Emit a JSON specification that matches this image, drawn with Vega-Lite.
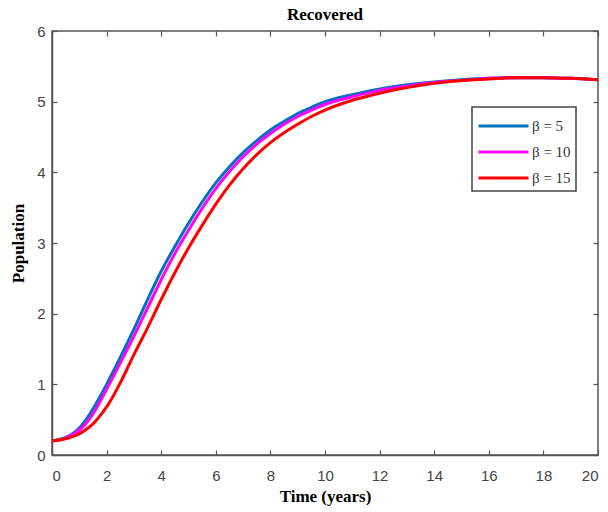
{
  "$schema": "https://vega.github.io/schema/vega-lite/v6.json",
  "width": 546,
  "height": 424,
  "autosize": {"type": "none"},
  "padding": {"left": 52, "top": 31, "right": 10, "bottom": 57},
  "background": "white",
  "title": {"text": "Recovered", "font": "Liberation Serif", "fontSize": 17, "fontWeight": "bold", "color": "#000", "offset": 0},
  "config": {
    "view": {"stroke": "#555", "strokeWidth": 1.5},
    "axis": {"domainColor": "#555", "domainWidth": 1.5, "tickColor": "#555", "tickWidth": 1.2, "tickSize": -5, "grid": false, "labelFont": "Liberation Sans", "labelFontSize": 15, "labelColor": "#444", "titleFont": "Liberation Serif", "titleFontSize": 17, "titleFontWeight": "bold", "titleColor": "#000"},
    "legend": {"orient": "none", "legendX": 420, "legendY": 76, "strokeColor": "#444", "strokeWidth": 1.5, "padding": 5, "fillColor": "white", "symbolType": "M-1,0H3", "symbolSize": 625, "symbolStrokeWidth": 3, "labelOffset": 27, "labelFont": "Liberation Serif", "labelFontSize": 15, "labelColor": "#333", "rowPadding": 4, "title": null}
  },
  "data": {"values": [
    {"t":0,"v":0.2,"s":"β = 5"},{"t":0.5,"v":0.25,"s":"β = 5"},{"t":0.75,"v":0.3,"s":"β = 5"},{"t":1,"v":0.38,"s":"β = 5"},{"t":1.25,"v":0.5,"s":"β = 5"},{"t":1.5,"v":0.65,"s":"β = 5"},{"t":1.75,"v":0.82,"s":"β = 5"},{"t":2,"v":1.0,"s":"β = 5"},{"t":2.5,"v":1.38,"s":"β = 5"},{"t":3,"v":1.78,"s":"β = 5"},{"t":3.5,"v":2.2,"s":"β = 5"},{"t":4,"v":2.6,"s":"β = 5"},{"t":4.5,"v":2.95,"s":"β = 5"},{"t":5,"v":3.28,"s":"β = 5"},{"t":5.5,"v":3.58,"s":"β = 5"},{"t":6,"v":3.85,"s":"β = 5"},{"t":6.5,"v":4.08,"s":"β = 5"},{"t":7,"v":4.28,"s":"β = 5"},{"t":7.5,"v":4.45,"s":"β = 5"},{"t":8,"v":4.6,"s":"β = 5"},{"t":8.5,"v":4.72,"s":"β = 5"},{"t":9,"v":4.83,"s":"β = 5"},{"t":9.5,"v":4.92,"s":"β = 5"},{"t":10,"v":5.0,"s":"β = 5"},{"t":11,"v":5.1,"s":"β = 5"},{"t":12,"v":5.18,"s":"β = 5"},{"t":13,"v":5.24,"s":"β = 5"},{"t":14,"v":5.28,"s":"β = 5"},{"t":15,"v":5.31,"s":"β = 5"},{"t":16,"v":5.33,"s":"β = 5"},{"t":17,"v":5.34,"s":"β = 5"},{"t":18,"v":5.34,"s":"β = 5"},{"t":19,"v":5.33,"s":"β = 5"},{"t":20,"v":5.31,"s":"β = 5"},
    {"t":0,"v":0.2,"s":"β = 10"},{"t":0.5,"v":0.24,"s":"β = 10"},{"t":0.75,"v":0.29,"s":"β = 10"},{"t":1,"v":0.35,"s":"β = 10"},{"t":1.25,"v":0.45,"s":"β = 10"},{"t":1.5,"v":0.58,"s":"β = 10"},{"t":1.75,"v":0.75,"s":"β = 10"},{"t":2,"v":0.93,"s":"β = 10"},{"t":2.5,"v":1.3,"s":"β = 10"},{"t":3,"v":1.68,"s":"β = 10"},{"t":3.5,"v":2.08,"s":"β = 10"},{"t":4,"v":2.48,"s":"β = 10"},{"t":4.5,"v":2.85,"s":"β = 10"},{"t":5,"v":3.18,"s":"β = 10"},{"t":5.5,"v":3.49,"s":"β = 10"},{"t":6,"v":3.77,"s":"β = 10"},{"t":6.5,"v":4.01,"s":"β = 10"},{"t":7,"v":4.22,"s":"β = 10"},{"t":7.5,"v":4.4,"s":"β = 10"},{"t":8,"v":4.55,"s":"β = 10"},{"t":8.5,"v":4.68,"s":"β = 10"},{"t":9,"v":4.79,"s":"β = 10"},{"t":9.5,"v":4.88,"s":"β = 10"},{"t":10,"v":4.96,"s":"β = 10"},{"t":11,"v":5.07,"s":"β = 10"},{"t":12,"v":5.16,"s":"β = 10"},{"t":13,"v":5.22,"s":"β = 10"},{"t":14,"v":5.27,"s":"β = 10"},{"t":15,"v":5.3,"s":"β = 10"},{"t":16,"v":5.33,"s":"β = 10"},{"t":17,"v":5.34,"s":"β = 10"},{"t":18,"v":5.34,"s":"β = 10"},{"t":19,"v":5.33,"s":"β = 10"},{"t":20,"v":5.31,"s":"β = 10"},
    {"t":0,"v":0.2,"s":"β = 15"},{"t":0.5,"v":0.23,"s":"β = 15"},{"t":0.75,"v":0.26,"s":"β = 15"},{"t":1,"v":0.3,"s":"β = 15"},{"t":1.25,"v":0.36,"s":"β = 15"},{"t":1.5,"v":0.44,"s":"β = 15"},{"t":1.75,"v":0.55,"s":"β = 15"},{"t":2,"v":0.68,"s":"β = 15"},{"t":2.25,"v":0.84,"s":"β = 15"},{"t":2.5,"v":1.02,"s":"β = 15"},{"t":3,"v":1.42,"s":"β = 15"},{"t":3.5,"v":1.8,"s":"β = 15"},{"t":4,"v":2.2,"s":"β = 15"},{"t":4.5,"v":2.58,"s":"β = 15"},{"t":5,"v":2.93,"s":"β = 15"},{"t":5.5,"v":3.25,"s":"β = 15"},{"t":6,"v":3.55,"s":"β = 15"},{"t":6.5,"v":3.82,"s":"β = 15"},{"t":7,"v":4.05,"s":"β = 15"},{"t":7.5,"v":4.25,"s":"β = 15"},{"t":8,"v":4.42,"s":"β = 15"},{"t":8.5,"v":4.56,"s":"β = 15"},{"t":9,"v":4.68,"s":"β = 15"},{"t":9.5,"v":4.79,"s":"β = 15"},{"t":10,"v":4.88,"s":"β = 15"},{"t":11,"v":5.02,"s":"β = 15"},{"t":12,"v":5.12,"s":"β = 15"},{"t":13,"v":5.2,"s":"β = 15"},{"t":14,"v":5.26,"s":"β = 15"},{"t":15,"v":5.3,"s":"β = 15"},{"t":16,"v":5.32,"s":"β = 15"},{"t":17,"v":5.34,"s":"β = 15"},{"t":18,"v":5.34,"s":"β = 15"},{"t":19,"v":5.33,"s":"β = 15"},{"t":20,"v":5.31,"s":"β = 15"}
  ]},
  "layer": [
    {
      "mark": {"type": "line", "interpolate": "monotone", "strokeWidth": 3},
      "encoding": {
        "x": {"field": "t", "type": "quantitative", "scale": {"domain": [0, 20], "nice": false}, "axis": {"title": "Time (years)", "values": [0,2,4,6,8,10,12,14,16,18,20], "labelPadding": 18, "titlePadding": 5}},
        "y": {"field": "v", "type": "quantitative", "scale": {"domain": [0, 6], "nice": false}, "axis": {"title": "Population", "values": [0,1,2,3,4,5,6], "labelPadding": 12, "titlePadding": 9}},
        "color": {"field": "s", "type": "nominal", "sort": ["β = 5", "β = 10", "β = 15"], "scale": {"domain": ["β = 5", "β = 10", "β = 15"], "range": ["#0072BD", "#FF00FF", "#FF0000"]}}
      }
    },
    {
      "mark": {"type": "line", "strokeOpacity": 0},
      "encoding": {
        "x": {"field": "t", "type": "quantitative", "axis": {"orient": "top", "title": null, "labels": false, "domain": false, "values": [0,2,4,6,8,10,12,14,16,18,20]}},
        "y": {"field": "v", "type": "quantitative", "axis": {"orient": "right", "title": null, "labels": false, "domain": false, "values": [0,1,2,3,4,5,6]}},
        "detail": {"field": "s"}
      }
    }
  ],
  "resolve": {"axis": {"x": "independent", "y": "independent"}}
}
